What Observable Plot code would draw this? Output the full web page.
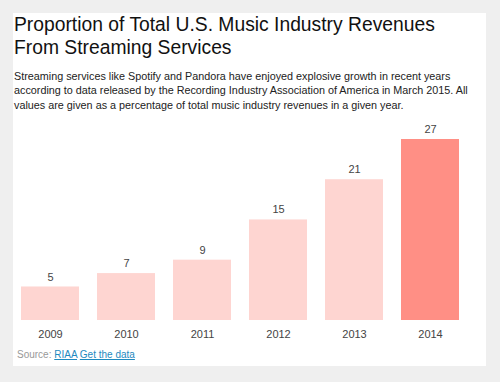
<!DOCTYPE html>
<html>
<head>
<meta charset="utf-8">
<script src="https://cdn.jsdelivr.net/npm/d3@7"></script>
<script src="https://cdn.jsdelivr.net/npm/@observablehq/plot@0.6"></script>
<style>
  html, body { margin: 0; padding: 0; background: #efefef; width: 500px; height: 382px; overflow: hidden; font-family: "Liberation Sans", Arial, sans-serif; }
  #card { position: absolute; left: 13px; top: 13px; width: 473px; height: 353px; background: #fff; }
  #title { position: absolute; left: 14px; top: 13px; font-size: 19.3px; line-height: 23px; color: #111; white-space: nowrap; }
  #subtitle { position: absolute; left: 14px; top: 68.5px; width: 460px; font-size: 10.8px; line-height: 14.5px; color: #222; }
  #chart { position: absolute; left: 0; top: 115px; }
  #source { position: absolute; left: 17px; top: 349px; font-size: 10px; line-height: 12px; color: #999; }
  #source a { color: #1f8ac0; text-decoration: underline; }
</style>
</head>
<body>
<div id="card"></div>
<div id="title">Proportion of Total U.S. Music Industry Revenues<br>From Streaming Services</div>
<div id="subtitle">Streaming services like Spotify and Pandora have enjoyed explosive growth in recent years according to data released by the Recording Industry Association of America in March 2015. All values are given as a percentage of total music industry revenues in a given year.</div>
<div id="chart"></div>
<div id="source">Source: <a>RIAA</a> <a>Get the data</a></div>
<script>
const years = ["2009", "2010", "2011", "2012", "2013", "2014"];
const shares = [5, 7, 9, 15, 21, 27];
const highlightYear = "2014";

const data = years.map((year, i) => ({year, share: shares[i]}));

const chart = Plot.plot({
  width: 500,
  height: 225,
  marginLeft: 21,
  marginRight: 41,
  marginTop: 24,
  marginBottom: 20,
  x: {domain: years, paddingInner: 0.24, paddingOuter: 0, axis: null},
  y: {domain: [0, 27], axis: null},
  style: {fontFamily: "'Liberation Sans', Arial, sans-serif", background: "transparent"},
  marks: [
    Plot.barY(data, {x: "year", y: "share", fill: d => d.year === highlightYear ? "#ff8f85" : "#fed5d1"}),
    Plot.text(data, {x: "year", y: "share", text: d => String(d.share), dy: -10, fontSize: 11, fill: "#444"}),
    Plot.axisX({tickSize: 0, tickPadding: 10, fontSize: 11, color: "#444", label: null})
  ]
});
document.getElementById("chart").appendChild(chart);
</script>
</body>
</html>
